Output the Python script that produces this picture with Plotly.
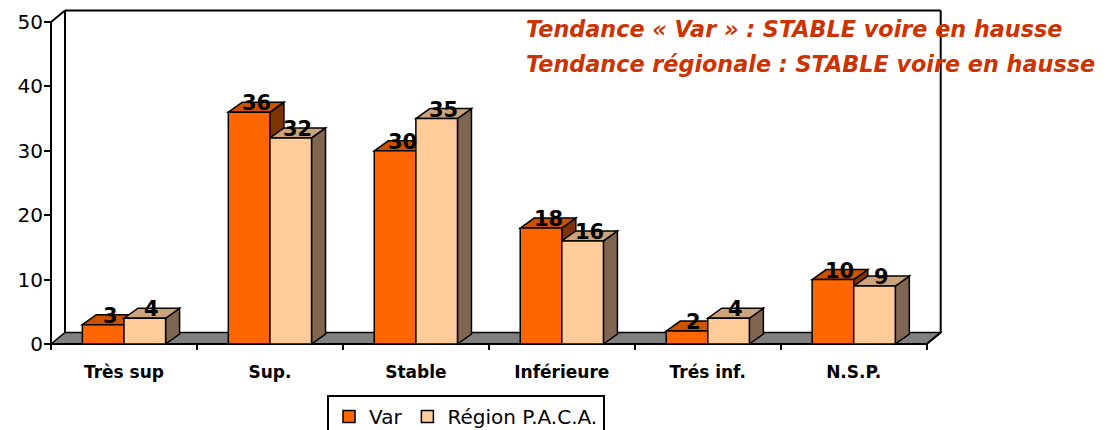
import plotly.graph_objects as go

categories = ["Très sup", "Sup.", "Stable", "Inférieure", "Trés inf.", "N.S.P."]
var_values = [3, 36, 30, 18, 2, 10]
paca_values = [4, 32, 35, 16, 4, 9]
series_names = ["Var", "Région P.A.C.A."]
y_ticks = [0, 10, 20, 30, 40, 50]
notes = ["Tendance « Var » : STABLE voire en hausse",
         "Tendance régionale : STABLE voire en hausse"]

# ---- styling / geometry constants (pixels of the screenshot) ----
OFS = 8                                    # page body margin
W, H = 1111 - OFS, 430 - OFS
def px(v):
    return v - OFS
PL, PR, PT, PB = px(44), px(946), px(8), px(350)   # plot area edges (figure px)
X0, XPU = px(51), 145.95                    # px of x=0, px per category
Y0, YPU = px(344), 6.44                     # px of y=0, px per unit
x_range = [(PL - X0) / XPU, (PR - X0) / XPU]
y_range = [(Y0 - PB) / YPU, (Y0 - PT) / YPU]

DX = 14 / XPU          # depth offset (x) in data units
DYW = 11.5 / YPU       # wall depth (y)
DYB = 10 / YPU         # bar depth (y)
OFF, BW = 0.215, 0.285

n = len(categories)
ymax = max(y_ticks)

front_cols = ["#FF6600", "#FFCC99"]
top_cols = ["#CC5200", "#CCA37A"]
side_cols = ["#7F3300", "#806650"]

fig = go.Figure()
series = [var_values, paca_values]
for k, vals in enumerate(series):
    fig.add_trace(go.Bar(
        x=list(range(n)), y=vals, offset=OFF + k * BW, width=BW,
        name=series_names[k],
        marker=dict(color=front_cols[k], line=dict(color="black", width=1.5)),
        hoverinfo="skip",
    ))

shapes = []
# floor
shapes.append(dict(type="path", layer="below", xref="x", yref="y",
                   path=f"M0,0 L{DX},{DYW} L{n + DX},{DYW} L{n},0 Z",
                   fillcolor="#808080", line=dict(color="black", width=1.5)))
# walls
wall_lines = [
    (DX, DYW, DX, ymax + DYW),
    (DX, ymax + DYW, n + DX, ymax + DYW),
    (n + DX, DYW, n + DX, ymax + DYW),
    (0, 0, 0, ymax),
    (0, ymax, DX, ymax + DYW),
    (0, 0, n, 0),
    (n, 0, n + DX, DYW),
]
for (xa, ya, xb, yb) in wall_lines:
    shapes.append(dict(type="line", layer="below", xref="x", yref="y",
                       x0=xa, y0=ya, x1=xb, y1=yb,
                       line=dict(color="black", width=2)))

annotations = []
for i in range(n):
    for k, vals in enumerate(series):
        v = vals[i]
        xl = i + OFF + k * BW
        xr = xl + BW
        shapes.append(dict(type="path", layer="below", xref="x", yref="y",
                           path=f"M{xr},0 L{xr + DX},{DYB} L{xr + DX},{v + DYB} L{xr},{v} Z",
                           fillcolor=side_cols[k], line=dict(color="black", width=1.5)))
        shapes.append(dict(type="path", layer="below", xref="x", yref="y",
                           path=f"M{xl},{v} L{xl + DX},{v + DYB} L{xr + DX},{v + DYB} L{xr},{v} Z",
                           fillcolor=top_cols[k], line=dict(color="black", width=1.5)))
        annotations.append(dict(x=(xl + xr) / 2 + DX / 2, y=v, xref="x", yref="y",
                                text=str(v), showarrow=False, yanchor="middle",
                                yshift=9,
                                font=dict(family="DejaVu Sans", size=21, color="black",
                                          weight="bold")))

note_y_px = [px(29), px(64)]
for t, ypx in zip(notes, note_y_px):
    annotations.append(dict(x=(px(524) - PL) / (PR - PL), y=(PB - ypx) / (PB - PT),
                            xref="paper", yref="paper", xanchor="left", yanchor="middle",
                            text=t, showarrow=False,
                            font=dict(family="DejaVu Sans", size=22.3, color="#CC3300",
                                      weight="bold", style="italic")))

fig.update_layout(
    width=W, height=H, autosize=False,
    margin=dict(l=PL, r=W - PR, t=PT, b=H - PB, pad=0, autoexpand=False),
    paper_bgcolor="white", plot_bgcolor="white",
    barmode="overlay",
    shapes=shapes, annotations=annotations,
    showlegend=True,
    legend=dict(orientation="h", x=(px(327) - PL) / (PR - PL), y=(PB - px(395)) / (PB - PT),
                xanchor="left", yanchor="top",
                bordercolor="black", borderwidth=2, bgcolor="white",
                font=dict(family="DejaVu Sans", size=20, color="black"),
                traceorder="normal", entrywidthmode="pixels"),
    xaxis=dict(range=x_range, showgrid=False, zeroline=False, showline=False,
               tickmode="array", tickvals=[i + 0.5 for i in range(n)], ticktext=categories,
               ticks="", ticklabelstandoff=10,
               tickfont=dict(family="DejaVu Sans", size=17, color="black", weight="bold"),
               minor=dict(ticks="inside", ticklen=6, tickwidth=2, tickcolor="black",
                          tick0=0, dtick=1, showgrid=False)),
    yaxis=dict(range=y_range, showgrid=False, zeroline=False, showline=False,
               tickmode="array", tickvals=y_ticks, ticks="inside", ticklen=7,
               tickwidth=2, tickcolor="black",
               tickfont=dict(family="DejaVu Sans", size=20, color="black")),
)

fig.write_html("out.html")
